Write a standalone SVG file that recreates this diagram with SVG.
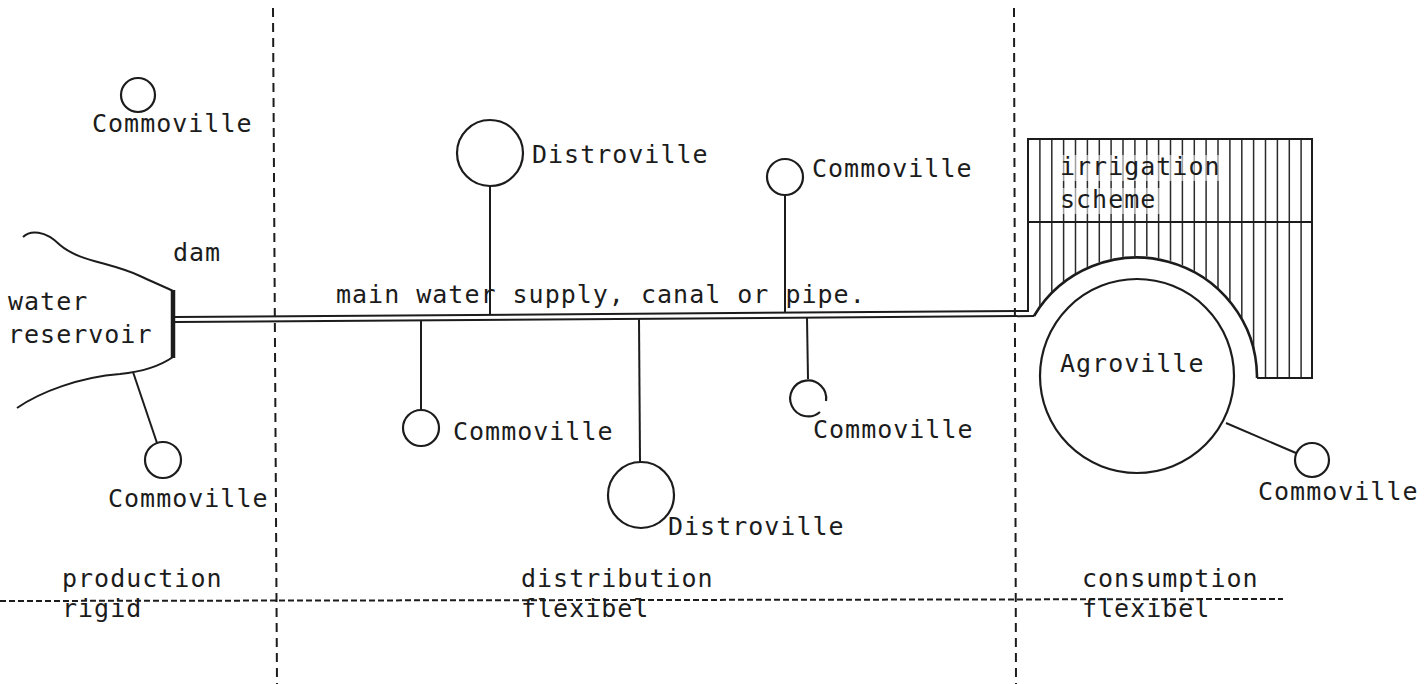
<svg xmlns="http://www.w3.org/2000/svg" width="1425" height="684" viewBox="0 0 1425 684">
<style>
.t{font-family:"DejaVu Sans Mono","Liberation Mono",monospace;font-size:25px;letter-spacing:1px;fill:#1c1c1c}
.l{stroke:#1c1c1c;stroke-width:2;fill:none}
.n{stroke:#1c1c1c;stroke-width:2.2;fill:none}
.dv{stroke:#1c1c1c;stroke-width:2;stroke-dasharray:9 6;fill:none}
.dh{stroke:#1c1c1c;stroke-width:2;stroke-dasharray:6 3;fill:none}
.h{stroke:#2a2a2a;stroke-width:1.5}
</style>
<defs>
<clipPath id="hatchClip">
<path clip-rule="evenodd" d="M1028 139 H1312 V378 H1028 Z M1017 376 A120 120 0 1 0 1257 376 A120 120 0 1 0 1017 376 Z"/>
</clipPath>
</defs>
<rect width="1425" height="684" fill="#ffffff"/>

<g id="zones">
<line class="dv" x1="273" y1="8" x2="277" y2="684"/>
<line class="dv" x1="1014" y1="8" x2="1016" y2="684"/>
<line class="dh" x1="0" y1="601" x2="1283" y2="599"/>
<text class="t" x="62" y="587">production</text>
<text class="t" x="62" y="617">rigid</text>
<text class="t" x="521" y="587">distribution</text>
<text class="t" x="521" y="617">flexibel</text>
<text class="t" x="1082" y="587">consumption</text>
<text class="t" x="1082" y="617">flexibel</text>
</g>

<g id="reservoir">
<path class="l" d="M23 237 C30 230 45 230 60 245 C80 262 110 262 140 276 C155 283 165 287 173 291"/>
<path class="l" d="M173 357 C160 366 140 372 120 374 C80 377 40 392 17 408"/>
<line x1="173" y1="290" x2="173" y2="358" stroke="#1c1c1c" stroke-width="4.5"/>
<text class="t" x="173" y="261">dam</text>
<text class="t" x="8" y="310">water</text>
<text class="t" x="8" y="343">reservoir</text>
</g>

<g id="irrigation">
<g clip-path="url(#hatchClip)">
<line class="h" x1="1039.9" y1="139" x2="1039.9" y2="378"/>
<line class="h" x1="1051.8" y1="139" x2="1051.8" y2="378"/>
<line class="h" x1="1063.6" y1="139" x2="1063.6" y2="378"/>
<line class="h" x1="1075.5" y1="139" x2="1075.5" y2="378"/>
<line class="h" x1="1087.4" y1="139" x2="1087.4" y2="378"/>
<line class="h" x1="1099.3" y1="139" x2="1099.3" y2="378"/>
<line class="h" x1="1111.1" y1="139" x2="1111.1" y2="378"/>
<line class="h" x1="1123" y1="139" x2="1123" y2="378"/>
<line class="h" x1="1134.9" y1="139" x2="1134.9" y2="378"/>
<line class="h" x1="1146.8" y1="139" x2="1146.8" y2="378"/>
<line class="h" x1="1158.6" y1="139" x2="1158.6" y2="378"/>
<line class="h" x1="1170.5" y1="139" x2="1170.5" y2="378"/>
<line class="h" x1="1182.4" y1="139" x2="1182.4" y2="378"/>
<line class="h" x1="1194.3" y1="139" x2="1194.3" y2="378"/>
<line class="h" x1="1206.1" y1="139" x2="1206.1" y2="378"/>
<line class="h" x1="1218" y1="139" x2="1218" y2="378"/>
<line class="h" x1="1229.9" y1="139" x2="1229.9" y2="378"/>
<line class="h" x1="1241.8" y1="139" x2="1241.8" y2="378"/>
<line class="h" x1="1253.6" y1="139" x2="1253.6" y2="378"/>
<line class="h" x1="1265.5" y1="139" x2="1265.5" y2="378"/>
<line class="h" x1="1277.4" y1="139" x2="1277.4" y2="378"/>
<line class="h" x1="1289.3" y1="139" x2="1289.3" y2="378"/>
<line class="h" x1="1301.1" y1="139" x2="1301.1" y2="378"/>
</g>
<path class="l" d="M1028 312 V139 H1312 V378 H1257"/>
<line class="l" x1="1028" y1="222" x2="1312" y2="222"/>
<rect x="1058" y="155" width="164" height="26" fill="#ffffff" opacity="0.55"/>
<rect x="1058" y="188" width="102" height="26" fill="#ffffff" opacity="0.55"/>
<text class="t" x="1060" y="175">irrigation</text>
<text class="t" x="1060" y="208">scheme</text>
</g>

<g id="connectors">
<line class="l" x1="175" y1="317" x2="1028" y2="311"/>
<line class="l" x1="175" y1="322" x2="1034" y2="316"/>
<path d="M1034 316 A120 120 0 0 1 1257 376 V378" stroke="#1c1c1c" stroke-width="2.6" fill="none"/>
<line class="l" x1="490" y1="186" x2="490" y2="315"/>
<line class="l" x1="785" y1="195" x2="785" y2="313"/>
<line class="l" x1="421" y1="320" x2="421" y2="410"/>
<line class="l" x1="639" y1="319" x2="640" y2="462"/>
<line class="l" x1="807" y1="318" x2="808" y2="379"/>
<line class="l" x1="133" y1="372" x2="157" y2="443"/>
<line class="l" x1="1226" y1="423" x2="1296" y2="453"/>
</g>

<text class="t" x="336" y="303">main water supply, canal or pipe.</text>

<g id="commoville-topleft">
<circle class="n" cx="138" cy="95" r="17"/>
<text class="t" x="92" y="132">Commoville</text>
</g>
<g id="commoville-reservoir">
<circle class="n" cx="163" cy="460" r="18"/>
<text class="t" x="108" y="507">Commoville</text>
</g>
<g id="distroville-top">
<circle class="n" cx="490" cy="153" r="33"/>
<text class="t" x="532" y="163">Distroville</text>
</g>
<g id="commoville-topright">
<circle class="n" cx="785" cy="177" r="18"/>
<text class="t" x="812" y="177">Commoville</text>
</g>
<g id="commoville-mid">
<circle class="n" cx="421" cy="428" r="18"/>
<text class="t" x="453" y="440">Commoville</text>
</g>
<g id="distroville-bottom">
<circle class="n" cx="641" cy="495" r="33"/>
<text class="t" x="668" y="535">Distroville</text>
</g>
<g id="commoville-lowright">
<path class="n" d="M820 412 A18 18 0 1 1 826 401"/>
<text class="t" x="813" y="438">Commoville</text>
</g>
<g id="agroville">
<circle class="n" cx="1137" cy="376" r="97"/>
<text class="t" x="1060" y="372">Agroville</text>
</g>
<g id="commoville-farright">
<circle class="n" cx="1312" cy="460" r="17"/>
<text class="t" x="1258" y="500">Commoville</text>
</g>
</svg>
